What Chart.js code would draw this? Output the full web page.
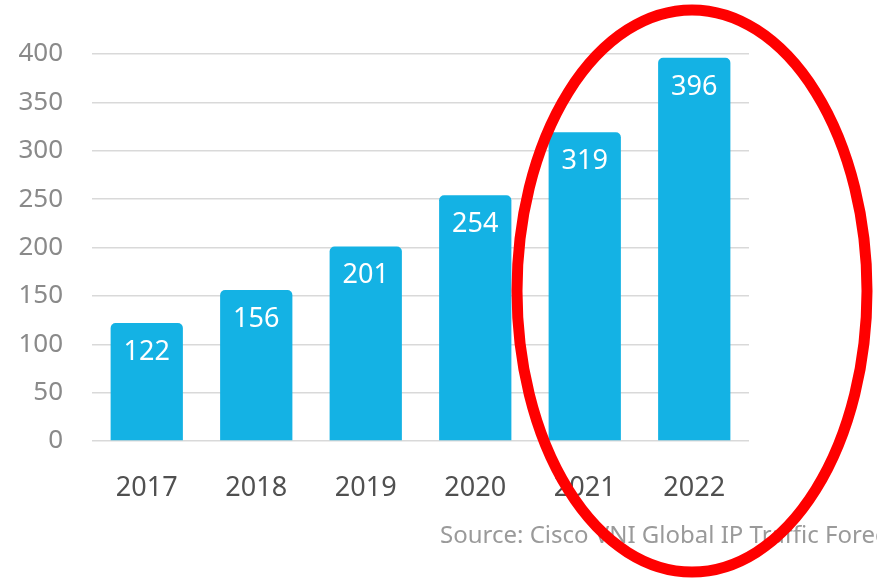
<!DOCTYPE html>
<html lang="en">
<head>
    <meta charset="UTF-8">
    <title>IP traffic</title>
    <style>
        body {
            margin: 0;
            padding: 0;
            background-color: #ffffff;
        }

        .chart-container {
            position: relative;
            width: 877px;
            height: 582px;
        }
    </style>
    <script src="https://cdn.jsdelivr.net/npm/chart.js"></script>
</head>
<body>
    <div class="chart-container">
        <canvas id="myChart"></canvas>
    </div>

    <script>
        // Datos
        const years = ['2017', '2018', '2019', '2020', '2021', '2022'];
        const traffic = [122, 156, 201, 254, 319, 396];
        const yTicks = [0, 50, 100, 150, 200, 250, 300, 350, 400];
        const sourceText = 'Source: Cisco VNI Global IP Traffic Forecast, 2017-2022';

        const fontFamily = '"Noto Sans", "Liberation Sans", sans-serif';

        // Etiquetas blancas dentro de cada barra, el texto de la fuente y el óvalo rojo
        const overlayPlugin = {
            id: 'overlay',
            afterDatasetsDraw(chart) {
                const ctx = chart.ctx;
                const meta = chart.getDatasetMeta(0);
                ctx.save();
                ctx.fillStyle = '#ffffff';
                ctx.font = '27px ' + fontFamily;
                ctx.textAlign = 'center';
                ctx.textBaseline = 'middle';
                meta.data.forEach((bar, i) => {
                    ctx.fillText(String(traffic[i]), bar.x, bar.y + 29);
                });
                ctx.restore();
            },
            afterDraw(chart) {
                const ctx = chart.ctx;
                ctx.save();
                ctx.fillStyle = '#9a9a9a';
                ctx.font = '24px ' + fontFamily;
                ctx.textAlign = 'left';
                ctx.textBaseline = 'middle';
                ctx.fillText(sourceText, 440, 536);

                ctx.strokeStyle = '#ff0000';
                ctx.lineWidth = 11;
                ctx.beginPath();
                ctx.ellipse(692, 291, 175, 281, 0, 0, Math.PI * 2);
                ctx.stroke();
                ctx.restore();
            }
        };

        const ctx = document.getElementById('myChart').getContext('2d');
        const myChart = new Chart(ctx, {
            type: 'bar',
            data: {
                labels: years,
                datasets: [{
                    data: traffic,
                    backgroundColor: '#14b2e4',
                    borderRadius: { topLeft: 5, topRight: 5 },
                    borderSkipped: 'bottom',
                    barPercentage: 0.66,
                    categoryPercentage: 1
                }]
            },
            options: {
                responsive: true,
                maintainAspectRatio: false,
                animation: false,
                layout: {
                    padding: { top: 54, right: 128, left: 0, bottom: 0 }
                },
                plugins: {
                    legend: { display: false },
                    tooltip: { enabled: false }
                },
                scales: {
                    x: {
                        grid: { display: false },
                        border: { display: false },
                        ticks: {
                            color: '#505050',
                            padding: 23,
                            font: { family: fontFamily, size: 27 }
                        },
                        afterFit(scale) {
                            scale.height = 141;
                        }
                    },
                    y: {
                        min: 0,
                        max: 400,
                        afterBuildTicks(scale) {
                            scale.ticks = yTicks.map(v => ({ value: v }));
                        },
                        grid: {
                            color: '#d9d9d9',
                            lineWidth: 1.5,
                            drawTicks: false
                        },
                        border: { display: false },
                        ticks: {
                            color: '#8a8a8a',
                            padding: 29,
                            font: { family: fontFamily, size: 26 }
                        },
                        afterFit(scale) {
                            scale.width = 92;
                        }
                    }
                }
            },
            plugins: [overlayPlugin]
        });
    </script>
</body>
</html>
